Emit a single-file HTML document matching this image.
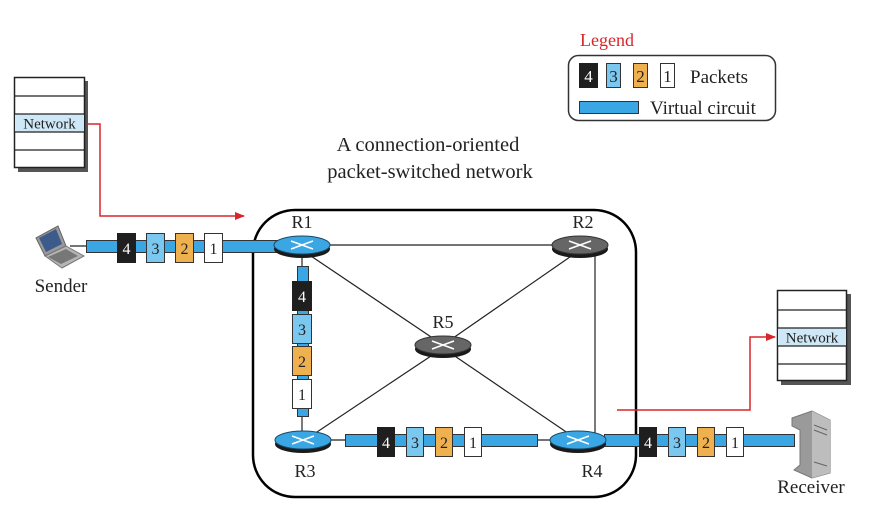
<!DOCTYPE html>
<html><head><meta charset="utf-8"><style>
html,body{margin:0;padding:0;background:#fff}
svg{display:block}
text{font-family:"Liberation Serif",serif;fill:#222}
</style></head><body>
<svg width="885" height="523" viewBox="0 0 885 523" xmlns="http://www.w3.org/2000/svg">
<defs>
<marker id="ar" markerWidth="10" markerHeight="8" refX="9" refY="4" orient="auto" markerUnits="userSpaceOnUse"><path d="M0,0 L10,4 L0,8 Z" fill="#d9252a"/></marker>
</defs>
<!-- legend -->
<text x="580" y="46" font-size="18" style="fill:#d9252a">Legend</text>
<rect x="568.5" y="55.5" width="207" height="65" rx="10" fill="#fff" stroke="#333" stroke-width="1.5"/>
<rect x="579" y="63" width="19" height="25" fill="#1f1f1f"/><text x="588.5" y="82" font-size="17" text-anchor="middle" style="fill:#fff">4</text>
<rect x="606.5" y="63.5" width="14" height="24" fill="#7ac7ef" stroke="#333"/><text x="613.5" y="82" font-size="17" text-anchor="middle">3</text>
<rect x="633.5" y="63.5" width="14" height="24" fill="#efb14f" stroke="#333"/><text x="640.5" y="82" font-size="17" text-anchor="middle">2</text>
<rect x="660.5" y="63.5" width="14" height="24" fill="#fff" stroke="#333"/><text x="667.5" y="82" font-size="17" text-anchor="middle">1</text>
<text x="690" y="83" font-size="19">Packets</text>
<rect x="579.5" y="101.5" width="59" height="12" fill="#3aa6e3" stroke="#333"/>
<text x="650" y="114" font-size="19">Virtual circuit</text>
<!-- title -->
<text x="428" y="151" font-size="20.5" text-anchor="middle">A connection-oriented</text>
<text x="430" y="178" font-size="20.5" text-anchor="middle">packet-switched network</text>
<!-- cloud -->
<rect x="253" y="210" width="383" height="287" rx="42" fill="none" stroke="#000" stroke-width="2.5"/>
<!-- links -->
<g stroke="#222" stroke-width="1.2">
<line x1="302" y1="245" x2="580" y2="245"/>
<line x1="302" y1="250" x2="443" y2="345"/>
<line x1="580" y1="250" x2="443" y2="345"/>
<line x1="443" y1="348" x2="305" y2="440"/>
<line x1="443" y1="348" x2="578" y2="440"/>
<line x1="595" y1="250" x2="595" y2="436"/>
<line x1="302" y1="250" x2="302" y2="440"/>
<line x1="330" y1="440" x2="550" y2="440"/>
<line x1="70" y1="246" x2="90" y2="246"/>
</g>
<!-- red arrows -->
<polyline points="84,124 100,124 100,216 244,216" fill="none" stroke="#d9252a" stroke-width="1.5" marker-end="url(#ar)"/>
<polyline points="617,410 750,410 750,337 775,337" fill="none" stroke="#d9252a" stroke-width="1.5" marker-end="url(#ar)"/>
<!-- virtual circuits -->
<g fill="#3aa6e3" stroke="#333">
<rect x="86.5" y="240.5" width="192" height="12"/>
<rect x="297.5" y="266.5" width="11" height="150"/>
<rect x="345.5" y="434.5" width="192" height="12"/>
<rect x="604.5" y="434.5" width="190" height="12"/>
</g>
<!-- packets -->
<g font-size="16">
<rect x="117" y="233" width="19" height="30" fill="#1f1f1f"/><text x="126.5" y="254" text-anchor="middle" style="fill:#fff">4</text>
<rect x="146.5" y="233.5" width="18" height="29" fill="#7ac7ef" stroke="#333"/><text x="155.5" y="254" text-anchor="middle">3</text>
<rect x="175.5" y="233.5" width="18" height="29" fill="#efb14f" stroke="#333"/><text x="184.5" y="254" text-anchor="middle">2</text>
<rect x="204.5" y="233.5" width="18" height="29" fill="#fff" stroke="#333"/><text x="213.5" y="254" text-anchor="middle">1</text>
<rect x="292" y="281" width="20" height="30" fill="#1f1f1f"/><text x="302" y="302" text-anchor="middle" style="fill:#fff">4</text>
<rect x="292.5" y="314.5" width="19" height="29" fill="#7ac7ef" stroke="#333"/><text x="302" y="335" text-anchor="middle">3</text>
<rect x="292.5" y="346.5" width="19" height="29" fill="#efb14f" stroke="#333"/><text x="302" y="367" text-anchor="middle">2</text>
<rect x="292.5" y="379.5" width="19" height="29" fill="#fff" stroke="#333"/><text x="302" y="400" text-anchor="middle">1</text>
<rect x="377" y="427" width="18" height="30" fill="#1f1f1f"/><text x="386" y="448" text-anchor="middle" style="fill:#fff">4</text>
<rect x="406.5" y="427.5" width="17" height="29" fill="#7ac7ef" stroke="#333"/><text x="415" y="448" text-anchor="middle">3</text>
<rect x="435.5" y="427.5" width="17" height="29" fill="#efb14f" stroke="#333"/><text x="444" y="448" text-anchor="middle">2</text>
<rect x="464.5" y="427.5" width="17" height="29" fill="#fff" stroke="#333"/><text x="473" y="448" text-anchor="middle">1</text>
<rect x="639" y="427" width="18" height="30" fill="#1f1f1f"/><text x="648" y="448" text-anchor="middle" style="fill:#fff">4</text>
<rect x="668.5" y="427.5" width="17" height="29" fill="#7ac7ef" stroke="#333"/><text x="677" y="448" text-anchor="middle">3</text>
<rect x="697.5" y="427.5" width="17" height="29" fill="#efb14f" stroke="#333"/><text x="706" y="448" text-anchor="middle">2</text>
<rect x="726.5" y="427.5" width="17" height="29" fill="#fff" stroke="#333"/><text x="735" y="448" text-anchor="middle">1</text>
</g>
<!-- routers -->
<g>
<ellipse cx="302" cy="249" rx="28" ry="9" fill="#1a1a1a"/><ellipse cx="302" cy="245" rx="28" ry="9" fill="#3aa6e3" stroke="#1a4a66"/>
<path d="M291,241 L313,249 M291,249 L313,241" stroke="#fff" stroke-width="1.5"/>
<ellipse cx="580" cy="249" rx="28" ry="9" fill="#1a1a1a"/><ellipse cx="580" cy="245" rx="28" ry="9" fill="#666" stroke="#333"/>
<path d="M569,241 L591,249 M569,249 L591,241" stroke="#fff" stroke-width="1.5"/>
<ellipse cx="443" cy="349" rx="28" ry="9" fill="#1a1a1a"/><ellipse cx="443" cy="345" rx="28" ry="9" fill="#666" stroke="#333"/>
<path d="M432,341 L454,349 M432,349 L454,341" stroke="#fff" stroke-width="1.5"/>
<ellipse cx="303" cy="444" rx="28" ry="9" fill="#1a1a1a"/><ellipse cx="303" cy="440" rx="28" ry="9" fill="#3aa6e3" stroke="#1a4a66"/>
<path d="M292,436 L314,444 M292,444 L314,436" stroke="#fff" stroke-width="1.5"/>
<ellipse cx="578" cy="444" rx="28" ry="9" fill="#1a1a1a"/><ellipse cx="578" cy="440" rx="28" ry="9" fill="#3aa6e3" stroke="#1a4a66"/>
<path d="M567,436 L589,444 M567,444 L589,436" stroke="#fff" stroke-width="1.5"/>
</g>
<g font-size="18">
<text x="302" y="228" text-anchor="middle">R1</text>
<text x="583" y="228" text-anchor="middle">R2</text>
<text x="443" y="328" text-anchor="middle">R5</text>
<text x="305" y="477" text-anchor="middle">R3</text>
<text x="592" y="477" text-anchor="middle">R4</text>
<text x="61" y="292" text-anchor="middle" font-size="19">Sender</text>
<text x="811" y="493" text-anchor="middle" font-size="19">Receiver</text>
</g>
<!-- left stack -->
<rect x="18" y="81" width="70" height="91" fill="#555"/>
<rect x="14.5" y="77.5" width="70" height="90" fill="#fff" stroke="#222" stroke-width="1.5"/>
<rect x="15" y="114" width="69" height="18" fill="#cfe8f7"/>
<g stroke="#222" stroke-width="1.2"><line x1="15" y1="96" x2="84" y2="96"/><line x1="15" y1="114" x2="84" y2="114"/><line x1="15" y1="132" x2="84" y2="132"/><line x1="15" y1="150" x2="84" y2="150"/></g>
<text x="49.5" y="128.5" font-size="15" text-anchor="middle">Network</text>
<!-- right stack -->
<rect x="781" y="294" width="70" height="91" fill="#555"/>
<rect x="777.5" y="290.5" width="69" height="90" fill="#fff" stroke="#222" stroke-width="1.5"/>
<rect x="778" y="328" width="68" height="18" fill="#cfe8f7"/>
<g stroke="#222" stroke-width="1.2"><line x1="778" y1="310" x2="846" y2="310"/><line x1="778" y1="328" x2="846" y2="328"/><line x1="778" y1="346" x2="846" y2="346"/><line x1="778" y1="364" x2="846" y2="364"/></g>
<text x="812" y="342.5" font-size="15" text-anchor="middle">Network</text>
<!-- laptop -->
<path d="M36,238 L58,226 L66,246 L45,256 Z" fill="#999" stroke="#666"/>
<path d="M39,238 L56,229 L62,244 L46,252 Z" fill="#3c5a8a"/>
<path d="M45,256 L66,246 L84,256 L62,268 Z" fill="#b5b5b5" stroke="#777"/>
<path d="M48,257 L66,249 L78,256 L61,264 Z" fill="#777"/>
<!-- server -->
<path d="M792,418 L812,411 L830,420 L830,473 L812,478 L794,470 L800,465 L800,430 L792,426 Z" fill="#9a9a9a" stroke="#777"/>
<path d="M812,411 L830,420 L830,473 L812,478 Z" fill="#bdbdbd"/>
<path d="M814,425 L827,430 M814,430 L827,435 M814,462 L827,466" stroke="#666"/>
</svg>
</body></html>
